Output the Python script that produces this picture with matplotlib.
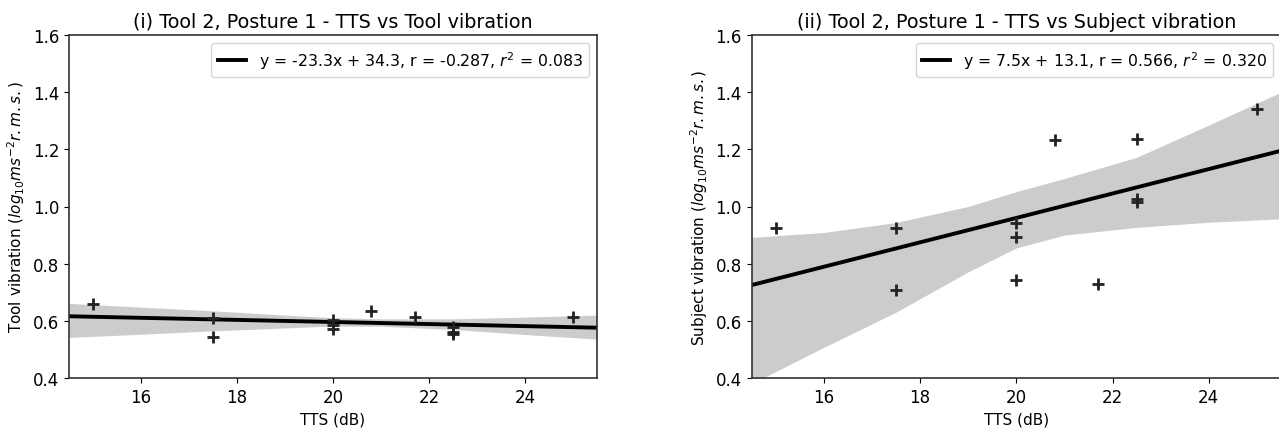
import matplotlib
matplotlib.use("Agg")
import matplotlib.pyplot as plt

# TTS (dB) values for each measurement
tts = [15, 17.5, 17.5, 20, 20, 20, 20.8, 21.7, 22.5, 22.5, 22.5, 25]
tool_vib = [0.659, 0.610, 0.543, 0.603, 0.585, 0.573, 0.636, 0.612, 0.578, 0.562, 0.555, 0.612]
subj_vib = [0.925, 0.925, 0.708, 0.941, 0.892, 0.743, 1.231, 0.729, 1.237, 1.026, 1.014, 1.342]

# fitted lines (end points)
fit_x = [14.5, 25.5]
tool_fit = [0.616, 0.576]
subj_fit = [0.725, 1.195]

# confidence bands
tool_band_x = [14.5, 16, 17.5, 19, 20, 21, 22.5, 24, 25.5]
tool_band_hi = [0.661, 0.648, 0.635, 0.620, 0.611, 0.607, 0.607, 0.613, 0.620]
tool_band_lo = [0.542, 0.553, 0.565, 0.575, 0.582, 0.581, 0.570, 0.552, 0.536]

subj_band_x = [14.5, 16, 17.5, 19, 20, 21, 22.5, 24, 25.5]
subj_band_hi = [0.892, 0.909, 0.944, 1.000, 1.052, 1.098, 1.172, 1.285, 1.400]
subj_band_lo = [0.380, 0.507, 0.630, 0.771, 0.855, 0.900, 0.927, 0.945, 0.957]

tool_label = "y = -23.3x + 34.3, r = -0.287, $r^2$ = 0.083"
subj_label = "y = 7.5x + 13.1, r = 0.566, $r^2$ = 0.320"

plt.rcParams['font.family'] = 'DejaVu Sans'
plt.rcParams['font.size'] = 11

fig = plt.figure(figsize=(12.79, 4.31), dpi=100)
ax1 = fig.add_axes([69/1279, 52/431, 528/1279, 343/431])
ax2 = fig.add_axes([751.5/1279, 52/431, 529.5/1279, 343/431])


def panel(ax, vib, fit, bx, blo, bhi, lab, title, ylab):
    ax.fill_between(bx, blo, bhi, color='#cccccc', lw=0, zorder=1)
    ax.plot(fit_x, fit, color='black', lw=2.8, label=lab, zorder=2)
    ax.plot(tts, vib, ls='none', marker='+', color='#222222', ms=8, mew=2, zorder=3)
    ax.set_xlim(14.5, 25.5)
    ax.set_ylim(0.4, 1.6)
    ax.set_xticks([16, 18, 20, 22, 24])
    ax.set_yticks([0.4, 0.6, 0.8, 1.0, 1.2, 1.4, 1.6])
    ax.tick_params(labelsize=12)
    ax.set_title(title, fontsize=13.8)
    ax.set_xlabel('TTS (dB)')
    ax.set_ylabel(ylab)
    ax.legend(loc='upper right', handlelength=1.8, fontsize=11.3)
    for s in ax.spines.values():
        s.set_color('#333333')
        s.set_linewidth(1.2)


panel(ax1, tool_vib, tool_fit, tool_band_x, tool_band_lo, tool_band_hi, tool_label,
      '(i) Tool 2, Posture 1 - TTS vs Tool vibration',
      'Tool vibration ($log_{10}ms^{-2}r.m.s.$)')
panel(ax2, subj_vib, subj_fit, subj_band_x, subj_band_lo, subj_band_hi, subj_label,
      '(ii) Tool 2, Posture 1 - TTS vs Subject vibration',
      'Subject vibration ($log_{10}ms^{-2}r.m.s.$)')

fig.savefig('out.png', dpi=100)
